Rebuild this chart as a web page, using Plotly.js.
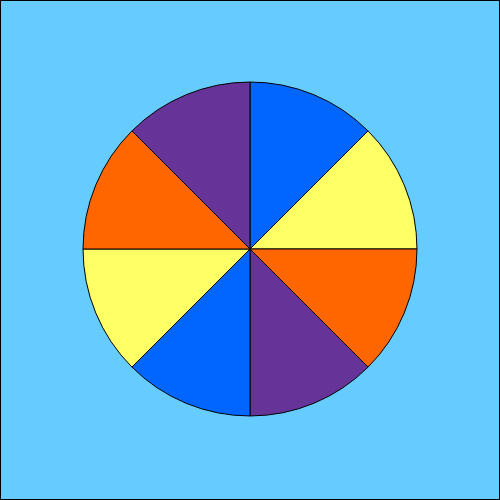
<!DOCTYPE html>
<html>
<head>
<meta charset="utf-8">
<script src="https://cdn.plot.ly/plotly-3.0.1.min.js"></script>
<style>
  body { margin: 0; background: #fff; }
  #frame { width: 500px; height: 500px; box-sizing: border-box; border: 1px solid #000; background: #66ccff; }
</style>
</head>
<body>
<div id="frame"><div id="chart"></div></div>
<script>
  // eight equal slices, clockwise from 12 o'clock
  var sliceLabels = ['A', 'B', 'C', 'D', 'E', 'F', 'G', 'H'];
  var sliceValues = [1, 1, 1, 1, 1, 1, 1, 1];
  var sliceColors = ['#0066ff', '#ffff66', '#ff6600', '#663399',
                     '#0066ff', '#ffff66', '#ff6600', '#663399'];

  var trace = {
    type: 'pie',
    labels: sliceLabels,
    values: sliceValues,
    sort: false,
    direction: 'clockwise',
    rotation: 0,
    textinfo: 'none',
    hoverinfo: 'none',
    marker: {
      colors: sliceColors,
      line: { color: '#000000', width: 1 }
    },
    domain: { x: [0.1647, 0.8353], y: [0.1667, 0.8373] }
  };

  var layout = {
    width: 498,
    height: 498,
    margin: { t: 0, r: 0, b: 0, l: 0 },
    paper_bgcolor: '#66ccff',
    plot_bgcolor: '#66ccff',
    showlegend: false
  };

  Plotly.newPlot('chart', [trace], layout, { displayModeBar: false, staticPlot: true });
</script>
</body>
</html>
